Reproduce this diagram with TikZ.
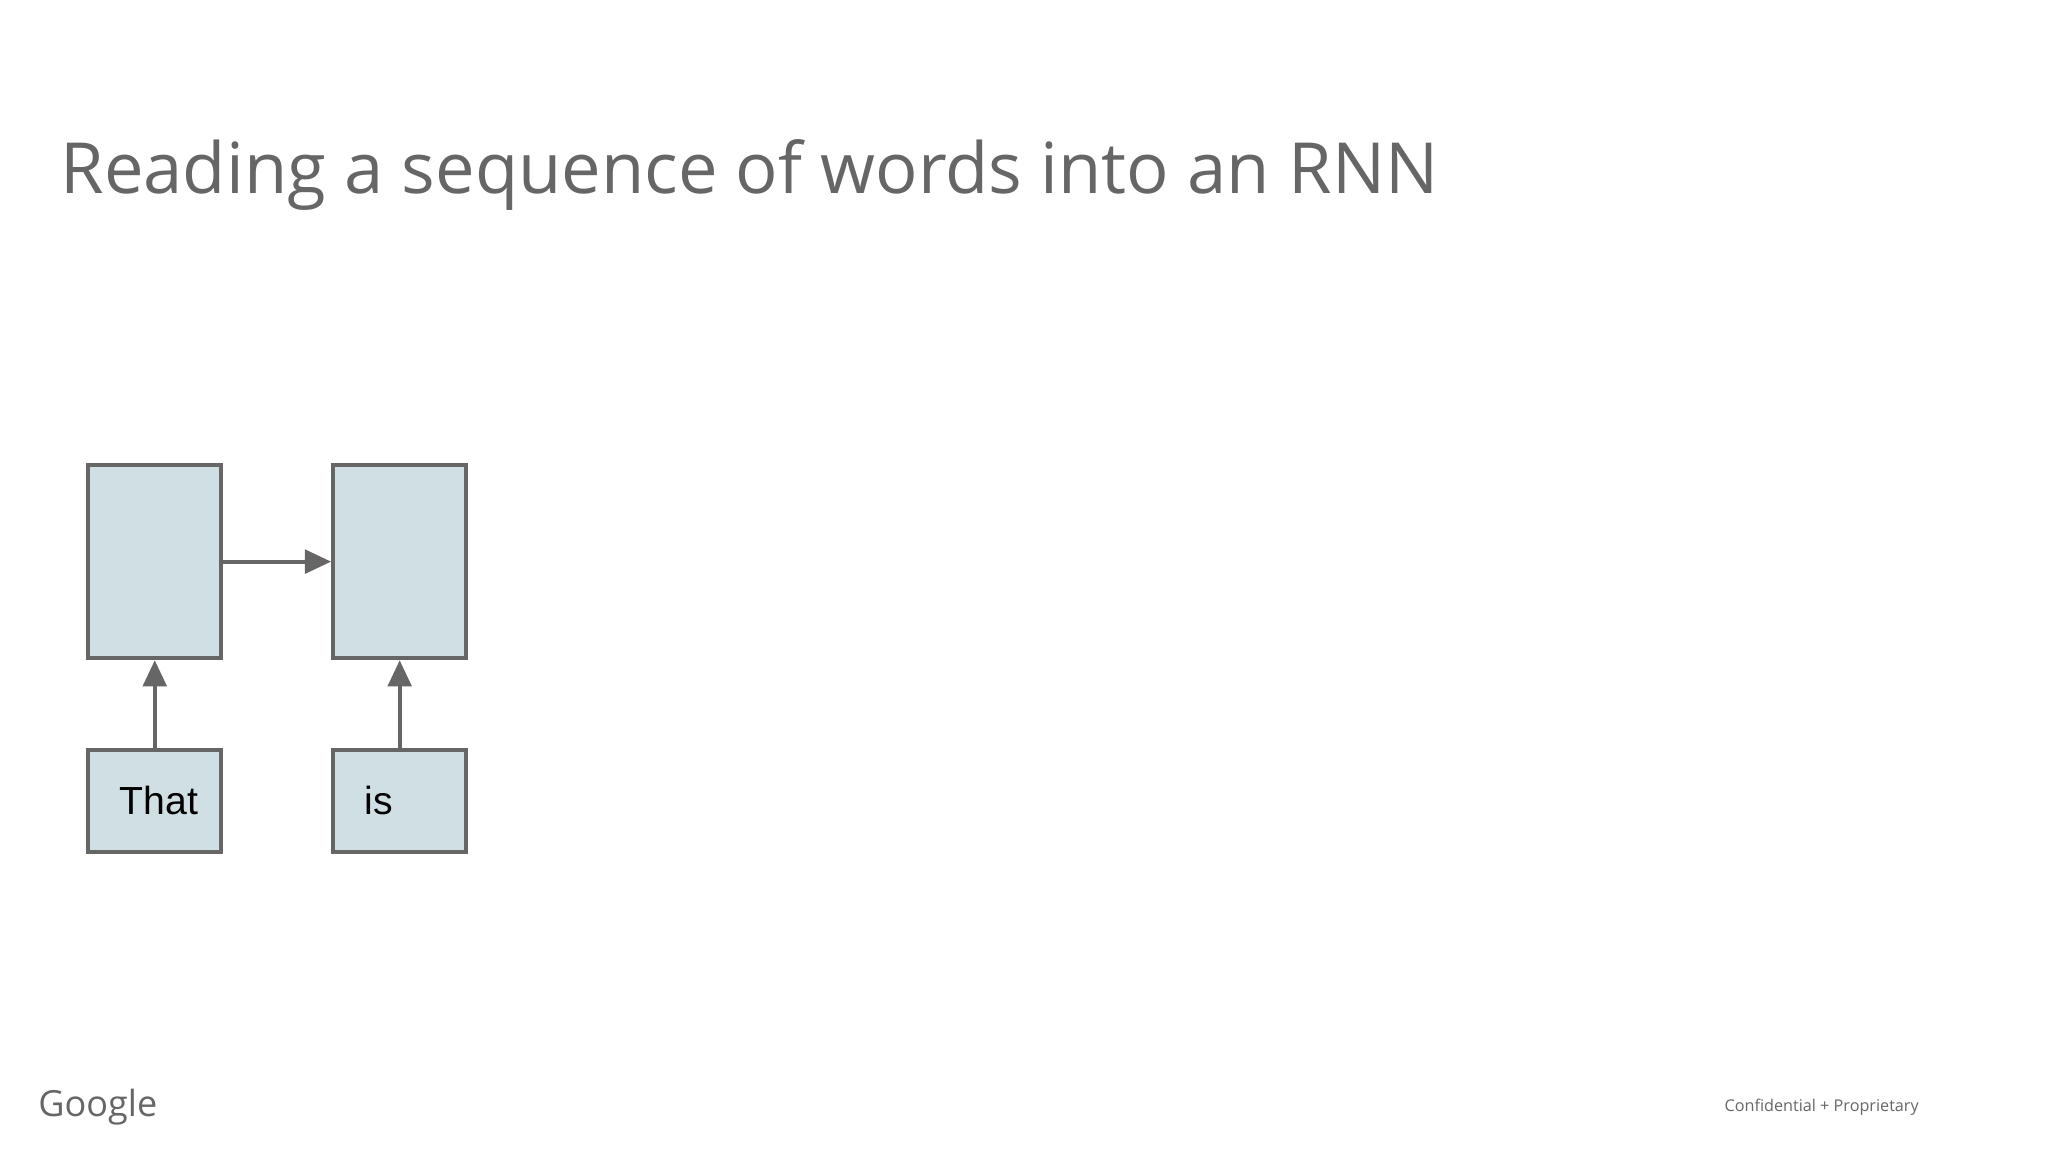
\documentclass[tikz,border=0pt]{standalone}
\usepackage{fontspec}
\setmainfont{Liberation Sans}
\newfontfamily\titlefont{Open Sans}
\usetikzlibrary{arrows.meta}
\definecolor{gry}{HTML}{666666}
\definecolor{boxfill}{HTML}{D0DFE3}
\tikzset{
  cell/.style={draw=gry, fill=boxfill, line width=1.5pt, minimum width=51pt, minimum height=74pt, inner sep=0pt},
  inp/.style={draw=gry, fill=boxfill, line width=1.5pt, minimum width=51pt, minimum height=39pt, inner sep=0pt, font=\fontsize{15}{18}\selectfont},
  conn/.style={draw=gry, line width=1.5pt, -{Triangle[length=10pt,width=9pt]}}
}
\begin{document}
\begin{tikzpicture}[x=0.5pt,y=-0.5pt]
\useasboundingbox (0,0) rectangle (1568,882);
\node[anchor=base west, text=gry, inner sep=0pt, font=\titlefont\fontsize{27}{32}\selectfont] (title) at (46,148) {Reading a sequence of words into an RNN};
\node[cell] (c1) at (118.5,430) {};
\node[cell] (c2) at (306,430) {};
\node[inp] (w1) at (118.5,613) {\hspace*{3pt}That};
\node[inp] (w2) at (306,613) {\hspace*{-16pt}is};
\draw[conn] (c1.east) -- (c2.west);
\draw[conn] (w1.north) -- (c1.south);
\draw[conn] (w2.north) -- (c2.south);
\node[anchor=base west, text=gry, inner sep=0pt, font=\titlefont\fontsize{13.8}{16}\selectfont] (logo) at (29,855) {Google};
\node[anchor=base west, text=gry, inner sep=0pt, font=\titlefont\fontsize{6.2}{8}\selectfont] (conf) at (1320,851) {Confidential + Proprietary};
\end{tikzpicture}
\end{document}
